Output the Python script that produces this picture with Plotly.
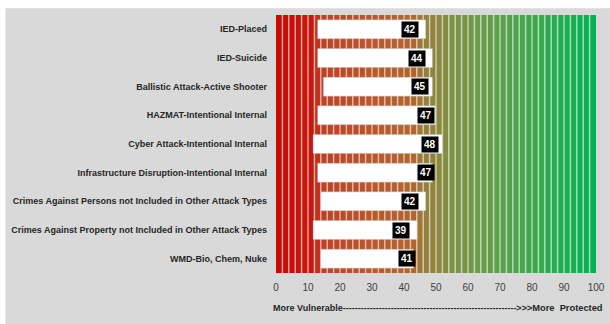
import plotly.graph_objects as go

categories = [
    "IED-Placed",
    "IED-Suicide",
    "Ballistic Attack-Active Shooter",
    "HAZMAT-Intentional Internal",
    "Cyber Attack-Intentional Internal",
    "Infrastructure Disruption-Intentional Internal",
    "Crimes Against Persons not Included in Other Attack Types",
    "Crimes Against Property not Included in Other Attack Types",
    "WMD-Bio, Chem, Nuke",
]
scores = [42, 44, 45, 47, 48, 47, 42, 39, 41]
range_low = [13, 13, 14.8, 13, 11.6, 13, 14, 11.6, 14]
range_high = [46.8, 48.9, 48.9, 49.9, 52, 48.9, 46.8, 44.1, 43]
tick_values = [0, 10, 20, 30, 40, 50, 60, 70, 80, 90, 100]

# gradient colour stops for the background stripes (position, rgb)
stops = [
    (0, (200, 8, 4)),
    (12, (195, 28, 16)),
    (13.5, (192, 62, 36)),
    (30, (188, 86, 42)),
    (43, (176, 102, 46)),
    (46, (150, 126, 58)),
    (55, (128, 145, 68)),
    (65, (104, 157, 72)),
    (80, (62, 168, 78)),
    (100, (0, 178, 80)),
]


def color_at(v):
    for (p0, c0), (p1, c1) in zip(stops[:-1], stops[1:]):
        if p0 <= v <= p1:
            t = (v - p0) / (p1 - p0)
            c = [round(a + (b - a) * t) for a, b in zip(c0, c1)]
            return "rgb(%d,%d,%d)" % tuple(c)
    return "rgb(%d,%d,%d)" % stops[-1][1]


W, H = 610, 324
L, R, T, B = 276, 13.5, 14.7, 50.7
pw, ph = W - L - R, H - T - B


def px_x(p):
    return (p - L) / pw


def px_y(p):
    return (H - B - p) / ph


shapes = []
step = 2
for i in range(0, 100, step):
    shapes.append(dict(type="rect", xref="x", yref="paper", x0=i, x1=i + step,
                       y0=0, y1=1, fillcolor=color_at(i + step / 2),
                       line=dict(width=0), layer="below"))
for i in range(step, 100, step):
    shapes.append(dict(type="line", xref="x", yref="paper", x0=i, x1=i,
                       y0=0, y1=1, line=dict(color="rgba(255,255,255,0.55)", width=1.5),
                       layer="below"))

# white strips of the image frame
shapes.append(dict(type="rect", xref="paper", yref="paper",
                   x0=px_x(-5), x1=px_x(W + 5), y0=px_y(8), y1=px_y(-5), fillcolor="white",
                   line=dict(width=0), layer="above"))
shapes.append(dict(type="rect", xref="paper", yref="paper",
                   x0=px_x(-5), x1=px_x(5), y0=px_y(H + 5), y1=px_y(-5), fillcolor="white",
                   line=dict(width=0), layer="above"))

fig = go.Figure()
fig.add_trace(go.Bar(
    y=categories,
    x=[h - l for h, l in zip(range_high, range_low)],
    base=range_low,
    orientation="h",
    marker=dict(color="white", line=dict(color="rgba(170,170,170,0.6)", width=0.6)),
    hoverinfo="skip",
))

annotations = []
for c, s in zip(categories, scores):
    annotations.append(dict(
        x=s, y=c, xref="x", yref="y", text="<b>%d</b>" % s, showarrow=False,
        bgcolor="black", font=dict(color="white", size=10, family="Liberation Sans"),
        borderpad=2,
    ))
annotations.append(dict(
    x=px_x(271), y=px_y(308), xref="paper", yref="paper", xanchor="left", yanchor="middle",
    text="<b>More Vulnerable" + "-" * 58 + "</b>",
    showarrow=False, font=dict(color="#262626", size=9, family="Liberation Sans"),
))
annotations.append(dict(
    x=px_x(606), y=px_y(308), xref="paper", yref="paper", xanchor="right", yanchor="middle",
    text="<b>&gt;&gt;&gt;More&nbsp;&nbsp;Protected</b>",
    showarrow=False, font=dict(color="#262626", size=9.3, family="Liberation Sans"),
))

fig.update_layout(
    width=W, height=H,
    margin=dict(l=L, r=R, t=T, b=B, autoexpand=False),
    paper_bgcolor="#d9d9d9",
    plot_bgcolor="rgba(0,0,0,0)",
    showlegend=False,
    bargap=0.34,
    shapes=shapes,
    annotations=annotations,
    xaxis=dict(range=[0, 100], tickvals=tick_values, showgrid=False, zeroline=False,
               showline=False, ticks="", ticklabelstandoff=7, automargin=False,
               tickfont=dict(size=10, color="#404040", family="Liberation Sans"),
               fixedrange=True),
    yaxis=dict(categoryorder="array", categoryarray=categories[::-1], showgrid=False,
               zeroline=False, ticks="", ticklabelstandoff=8, automargin=False,
               tickfont=dict(size=9, color="#262626", family="Liberation Sans"),
               fixedrange=True),
)
fig.update_yaxes(tickprefix="<b>", ticksuffix="</b>")

fig.write_html("out.html")
